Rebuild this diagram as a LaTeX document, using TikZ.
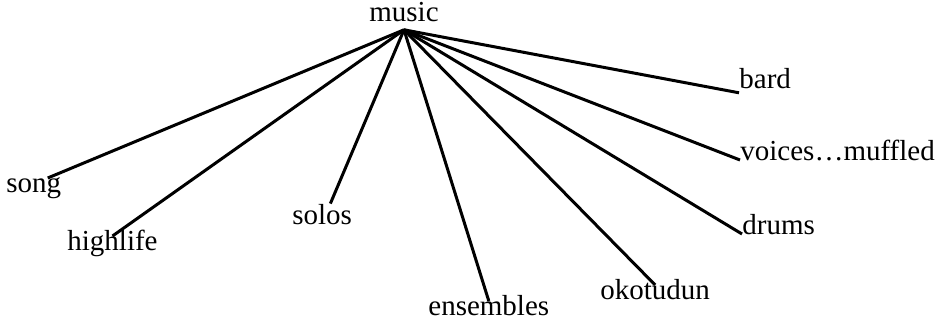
\documentclass[tikz,border=0pt]{standalone}
\usepackage{fontspec}
\setmainfont{Liberation Serif}

\begin{document}
\begin{tikzpicture}[x=0.5pt,y=-0.5pt,wnode/.style={inner sep=0pt,text height=0.68em,text depth=0.22em,font=\fontsize{14.5}{17}\selectfont}, link/.style={line width=1.5pt}]
		\useasboundingbox (0,0) rectangle (943,321);
		\node[wnode,inner ysep=2pt,anchor=base] (music) at (404,21){music};
		\node[wnode,anchor=base west] (song) at (6,192){song};
		\node[wnode,anchor=base west] (highlife) at (67,250){highlife};
		\node[wnode,anchor=base west] (solos) at (292,224){solos};
		\node[wnode,anchor=base west] (ensembles) at (428,315){ensembles};
		\node[wnode,anchor=base west] (okotudun) at (600,299){okotudun};
		\node[wnode,anchor=base west] (drums) at (742,234){drums};
		\node[wnode,anchor=base west] (voices) at (740,160){voices…muffled};
		\node[wnode,anchor=base west] (bard) at (739,88){bard};
		\draw[link] (music.south) -- (song.34);
		\draw[link] (music.south) -- (highlife.north);
		\draw[link,shorten >=3.5pt] (music.south) -- (solos.60);
		\draw[link] (music.south) -- (ensembles.north);
		\draw[link] (music.south) -- (okotudun.north);
		\draw[link] (music.south) -- (drums.base west);
		\draw[link] (music.south) -- (voices.base west);
		\draw[link] (music.south) -- (bard.south west);
	\end{tikzpicture}
\end{document}
